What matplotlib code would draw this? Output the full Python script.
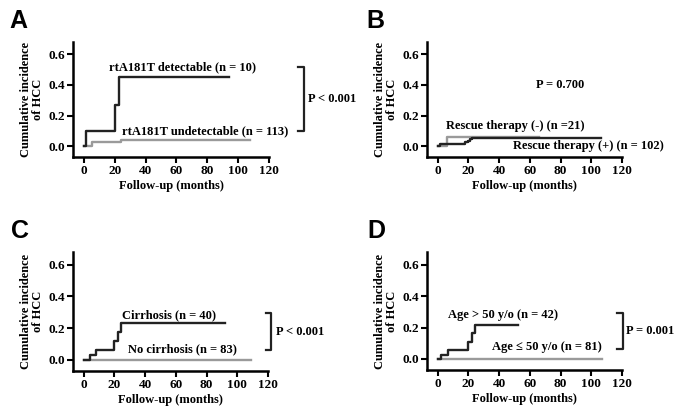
import numpy as np
import matplotlib
matplotlib.use('Agg')
import matplotlib.pyplot as plt

plt.rcParams['font.family'] = 'Liberation Serif'
plt.rcParams['font.weight'] = 'bold'

# Panel A: rtA181T
a_det_t = [0, 1.5, 20, 23, 94]
a_det_y = [0.0, 0.10, 0.27, 0.45, 0.45]
a_und_t = [0, 5, 24, 108]
a_und_y = [0.0, 0.026, 0.044, 0.044]

# Panel B: rescue therapy
b_neg_t = [0, 6, 66]
b_neg_y = [0.0, 0.06, 0.06]
b_pos_t = [0, 1.5, 18, 20, 21, 22, 24, 106]
b_pos_y = [0.0, 0.015, 0.025, 0.035, 0.045, 0.052, 0.057, 0.057]

# Panel C: cirrhosis
c_cir_t = [0, 4, 8, 20, 22, 24, 92]
c_cir_y = [0.0, 0.031, 0.065, 0.12, 0.175, 0.233, 0.233]
c_no_t = [0, 109]
c_no_y = [0.0, 0.0]

# Panel D: age
d_old_t = [0, 2, 6.5, 20, 22, 24, 52]
d_old_y = [0.0, 0.026, 0.06, 0.11, 0.162, 0.217, 0.217]
d_young_t = [0, 107]
d_young_y = [0.0, 0.0]

yticks = [0.0, 0.2, 0.4, 0.6]
xticks = [0, 20, 40, 60, 80, 100, 120]

black = '#222222'
grey = '#9a9a9a'
fs = 9

fig = plt.figure(figsize=(6.85, 4.16), dpi=100)
W, H = 685, 416

def make_ax(x0, x1, ytop, ybot):
    ax = fig.add_axes([x0 / W, 1 - ybot / H, (x1 - x0) / W, (ybot - ytop) / H])
    ax.set_xlim(-7, 120)
    ax.set_ylim(-0.07, 0.68)
    ax.set_xticks(xticks)
    ax.set_yticks(yticks)
    ax.set_yticklabels(['%.1f' % v for v in yticks])
    for s in ['top', 'right']:
        ax.spines[s].set_visible(False)
    for s in ['left', 'bottom']:
        ax.spines[s].set_linewidth(1.8)
    ax.tick_params(direction='out', length=4, width=1.5, labelsize=9.5, pad=2)
    ax.set_xlabel('Follow-up (months)', fontsize=fs, fontweight='bold', labelpad=2)
    ax.set_ylabel('Cumulative incidence\nof HCC', fontsize=fs, fontweight='bold',
                  labelpad=3, linespacing=0.95)
    return ax

def bracket(ax, x0, x1, y0, y1, label, tx, ty):
    ax.plot([x0, x1, x1, x0], [y1, y1, y0, y0], color=black, lw=1.6, clip_on=False)
    ax.text(tx, ty, label, fontsize=fs, fontweight='bold', va='center', ha='left')

axA = make_ax(73, 269, 42, 157)
axA.step(a_und_t, a_und_y, where='post', color=grey, lw=1.7)
axA.step(a_det_t, a_det_y, where='post', color=black, lw=1.7)
axA.text(64, 0.515, 'rtA181T detectable (n = 10)', fontsize=fs, ha='center', va='center')
axA.text(78.6, 0.1, 'rtA181T undetectable (n = 113)', fontsize=fs, ha='center', va='center')
bracket(axA, 139, 142.5, 0.10, 0.52, 'P < 0.001', 145.5, 0.31)

axB = make_ax(427, 622, 42, 157)
axB.step(b_neg_t, b_neg_y, where='post', color=grey, lw=1.7)
axB.step(b_pos_t, b_pos_y, where='post', color=black, lw=1.7)
axB.text(80, 0.40, 'P = 0.700', fontsize=fs, ha='center', va='center')
axB.text(50.4, 0.13, 'Rescue therapy (-) (n =21)', fontsize=fs, ha='center', va='center')
axB.text(98, 0.0, 'Rescue therapy (+) (n = 102)', fontsize=fs, ha='center', va='center',
         clip_on=False)

axC = make_ax(73, 268, 252, 371)
axC.step(c_no_t, c_no_y, where='post', color=grey, lw=1.7)
axC.step(c_cir_t, c_cir_y, where='post', color=black, lw=1.7)
axC.text(55.6, 0.28, 'Cirrhosis (n = 40)', fontsize=fs, ha='center', va='center')
axC.text(64.4, 0.07, 'No cirrhosis (n = 83)', fontsize=fs, ha='center', va='center')
bracket(axC, 119, 122, 0.063, 0.295, 'P < 0.001', 125, 0.175)

axD = make_ax(427, 622, 252, 370)
axD.step(d_young_t, d_young_y, where='post', color=grey, lw=1.7)
axD.step(d_old_t, d_old_y, where='post', color=black, lw=1.7)
axD.text(42.8, 0.28, 'Age > 50 y/o (n = 42)', fontsize=fs, ha='center', va='center')
axD.text(71, 0.074, 'Age \u2264 50 y/o (n = 81)', fontsize=fs, ha='center', va='center')
bracket(axD, 116.7, 120.5, 0.063, 0.292, 'P = 0.001', 122.8, 0.178)

for lab, x, y in [('A', 9, 21), ('B', 366, 21), ('C', 11, 231), ('D', 367, 231)]:
    fig.text(x / W, 1 - y / H, lab, family='Liberation Sans', fontweight='bold',
             fontsize=18, va='center', ha='left')

fig.savefig('out.png', dpi=100)
